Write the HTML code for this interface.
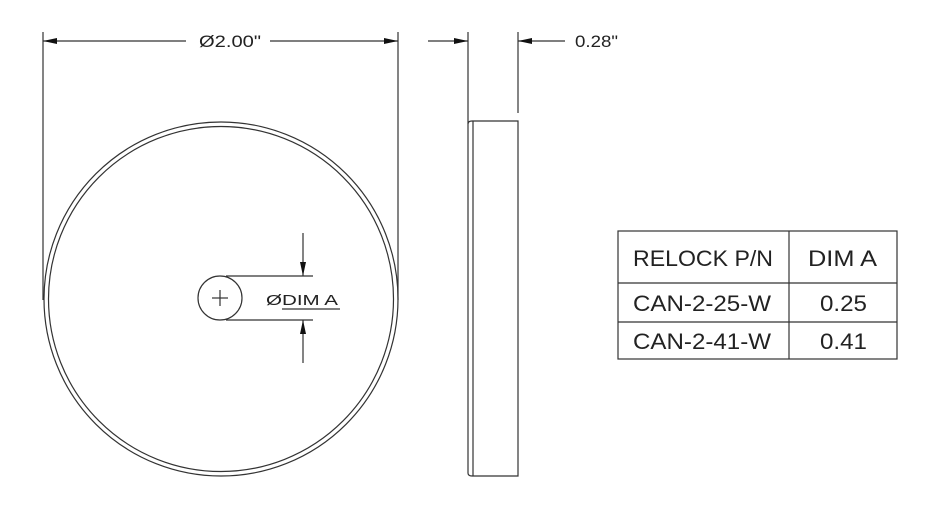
<!DOCTYPE html>
<html><head><meta charset="utf-8"><style>
html,body{margin:0;padding:0;background:#fff;}
svg{display:block;}
text{font-family:"Liberation Sans",sans-serif;fill:#222;}
</style></head><body>
<svg width="930" height="519" viewBox="0 0 930 519" xmlns="http://www.w3.org/2000/svg">
<defs>
<marker id="a" markerWidth="14" markerHeight="6" refX="14" refY="3" orient="auto" markerUnits="userSpaceOnUse">
<path d="M0,0 L14,3 L0,6 Z" fill="#111"/>
</marker>
</defs>
<g stroke="#333" stroke-width="1.2" fill="none">
<circle cx="221" cy="299" r="177"/>
<circle cx="221" cy="299" r="172.5"/>
<line x1="43" y1="32" x2="43" y2="300"/>
<line x1="398" y1="32" x2="398" y2="300"/>
<line x1="186" y1="41" x2="43" y2="41" marker-end="url(#a)"/>
<line x1="270" y1="41" x2="398" y2="41" marker-end="url(#a)"/>
<circle cx="220" cy="298" r="22"/>
<line x1="212" y1="298" x2="228" y2="298"/>
<line x1="220" y1="290" x2="220" y2="306"/>
<line x1="226" y1="276" x2="313" y2="276"/>
<line x1="226" y1="320" x2="313" y2="320"/>
<line x1="303" y1="233" x2="303" y2="276" marker-end="url(#a)"/>
<line x1="303" y1="363" x2="303" y2="320" marker-end="url(#a)"/>
<line x1="282" y1="309" x2="340" y2="309"/>
<line x1="468" y1="32" x2="468" y2="473"/>
<path d="M468,124 Q468,121 472,121 L518,121 L518,476 L472,476 Q468,476 468,473"/>
<line x1="473" y1="121" x2="473" y2="476"/>
<line x1="518" y1="32" x2="518" y2="113"/>
<line x1="428" y1="41" x2="468" y2="41" marker-end="url(#a)"/>
<line x1="565" y1="41" x2="518" y2="41" marker-end="url(#a)"/>
<rect x="618" y="231" width="279" height="128"/>
<line x1="789" y1="231" x2="789" y2="359"/>
<line x1="618" y1="283" x2="897" y2="283"/>
<line x1="618" y1="322" x2="897" y2="322"/>
</g>
<text x="199" y="47" font-size="17" textLength="62" lengthAdjust="spacingAndGlyphs">Ø2.00"</text>
<text x="575" y="47" font-size="17" textLength="43" lengthAdjust="spacingAndGlyphs">0.28"</text>
<text x="266" y="305" font-size="15" textLength="72" lengthAdjust="spacingAndGlyphs">ØDIM A</text>
<text x="633" y="266" font-size="22" textLength="140" lengthAdjust="spacingAndGlyphs">RELOCK P/N</text>
<text x="808" y="266" font-size="22" textLength="69" lengthAdjust="spacingAndGlyphs">DIM A</text>
<text x="633" y="311" font-size="22" textLength="138" lengthAdjust="spacingAndGlyphs">CAN-2-25-W</text>
<text x="820" y="311" font-size="22" textLength="47" lengthAdjust="spacingAndGlyphs">0.25</text>
<text x="633" y="349" font-size="22" textLength="138" lengthAdjust="spacingAndGlyphs">CAN-2-41-W</text>
<text x="820" y="349" font-size="22" textLength="47" lengthAdjust="spacingAndGlyphs">0.41</text>
</svg>
</body></html>
